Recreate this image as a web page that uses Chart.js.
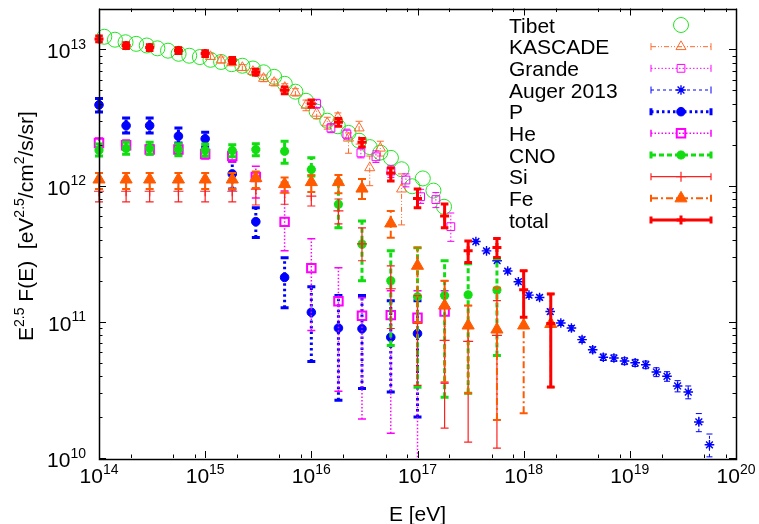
<!DOCTYPE html>
<html><head><meta charset="utf-8">
<script src="https://cdn.jsdelivr.net/npm/chart.js@4"></script>
<style>html,body{margin:0;padding:0;background:#fff}#wrap{width:759px;height:524px}</style>
</head><body>
<div id="wrap"><canvas id="c" width="759" height="524"></canvas></div>
<script>
// ---------------- data ----------------
const xTickExps = [14,15,16,17,18,19,20];
const yTickExps = [10,11,12,13];

const tibetE = [1.122e14,1.413e14,1.778e14,2.239e14,2.818e14,3.548e14,4.467e14,5.623e14,7.079e14,8.913e14,
  1.122e15,1.413e15,1.778e15,2.239e15,2.818e15,3.548e15,4.467e15,5.623e15,7.079e15,8.913e15,
  1.122e16,1.413e16,1.778e16,2.239e16,2.818e16,3.548e16,4.467e16,5.623e16,7.079e16,8.913e16,
  1.122e17,1.413e17,1.778e17];
const tibetV = [1.24e13,1.18e13,1.13e13,1.10e13,1.07e13,1.02e13,9.8e12,9.3e12,9.0e12,8.8e12,
  8.4e12,8.1e12,7.8e12,7.6e12,7.25e12,6.8e12,6.3e12,5.6e12,4.9e12,4.2e12,
  3.5e12,3.0e12,2.73e12,2.44e12,2.14e12,1.92e12,1.75e12,1.6e12,1.32e12,9.9e11,
  1.13e12,9.2e11,7.0e11];

const kascadeE = [1.122e15,1.413e15,1.778e15,2.239e15,2.818e15,3.548e15,4.467e15,5.623e15,7.079e15,8.913e15,
  1.122e16,1.413e16,1.778e16,2.239e16,2.818e16,3.548e16,4.467e16,7.079e16];
const kascadeV  = [8.87e12,8.37e12,8.02e12,7.37e12,6.89e12,6.13e12,5.73e12,5.26e12,4.84e12,3.89e12,
  3.40e12,2.885e12,3.18e12,2.23e12,2.65e12,1.352e12,1.884e12,9.44e11];
const kascadeHi = [9.3e12,8.8e12,8.4e12,7.75e12,7.25e12,6.5e12,6.05e12,5.6e12,5.15e12,4.25e12,
  3.72e12,3.18e12,3.42e12,2.44e12,2.97e12,1.65e12,2.12e12,1.22e12];
const kascadeLo = [8.45e12,7.95e12,7.6e12,7.0e12,6.55e12,5.8e12,5.4e12,4.95e12,4.55e12,3.55e12,
  3.1e12,2.6e12,2.97e12,1.73e12,2.02e12,1.0e12,1.65e12,5.15e11];

const grandeE  = [1.12e16,1.53e16,2.16e16,2.93e16,4.06e16,5.62e16,7.78e16,1.07e17,1.49e17,2.06e17];
const grandeV  = [4.0e12,2.65e12,2.39e12,1.74e12,1.63e12,1.28e12,1.10e12,8.3e11,7.9e11,5.0e11];
const grandeHi = [4.3e12,2.85e12,2.6e12,1.88e12,1.8e12,1.4e12,1.22e12,9.4e11,8.9e11,6.3e11];
const grandeLo = [3.72e12,2.45e12,2.2e12,1.6e12,1.48e12,1.15e12,0.98e12,7.4e11,6.9e11,3.9e11];

const augerE = [3.548e17,4.467e17,5.623e17,7.079e17,8.913e17,1.122e18,1.413e18,1.778e18,2.239e18,2.818e18,
  3.548e18,4.467e18,5.623e18,7.079e18,8.913e18,1.122e19,1.413e19,1.778e19,2.239e19,2.818e19,
  3.548e19,4.467e19,5.623e19];
const augerV  = [3.89e11,3.32e11,2.81e11,2.36e11,1.97e11,1.57e11,1.51e11,1.19e11,9.8e10,9.0e10,
  7.4e10,6.24e10,5.5e10,5.42e10,5.15e10,5.0e10,4.84e10,4.28e10,3.98e10,3.38e10,3.05e10,1.84e10,1.25e10];
const augerHi = [4.0e11,3.42e11,2.9e11,2.44e11,2.04e11,1.63e11,1.57e11,1.24e11,1.02e11,9.4e10,
  7.75e10,6.55e10,5.8e10,5.72e10,5.45e10,5.3e10,5.15e10,4.6e10,4.3e10,3.7e10,3.38e10,2.12e10,1.5e10];
const augerLo = [3.78e11,3.22e11,2.72e11,2.28e11,1.9e11,1.51e11,1.45e11,1.14e11,9.4e10,8.6e10,
  7.05e10,5.93e10,5.2e10,5.12e10,4.85e10,4.7e10,4.53e10,3.96e10,3.66e10,3.06e10,2.72e10,1.56e10,1.02e10];

const compE = [1e14,1.8e14,3e14,5.6e14,1e15,1.8e15,3e15,5.6e15,1e16,1.8e16,3e16,5.6e16,1e17,1.8e17,3e17,5.6e17,1e18,1.8e18];

const pV  = [3.92e12,2.76e12,2.76e12,2.31e12,2.21e12,1.22e12,5.44e11,2.12e11,1.175e11,9.0e10,8.9e10,7.7e10,8.2e10];
const pHi = [4.37e12,3.14e12,3.14e12,2.65e12,2.47e12,1.51e12,6.89e11,2.95e11,1.81e11,1.56e11,1.56e11,1.43e11,1.43e11];
const pLo = [3.47e12,2.44e12,2.44e12,2.06e12,1.92e12,9.44e11,4.16e11,1.27e11,5.12e10,2.66e10,3.24e10,3.05e10,2.0e10];

const heV  = [2.06e12,1.98e12,1.84e12,1.84e12,1.71e12,1.65e12,1.156e12,5.42e11,2.48e11,1.415e11,1.11e11,1.12e11,1.07e11,1.19e11];
const heHi = [2.24e12,2.16e12,2.0e12,2.0e12,1.86e12,1.82e12,1.39e12,9.13e11,4.07e11,2.5e11,1.5e11,1.69e11,1.69e11,1.69e11];
const heLo = [1.89e12,1.82e12,1.69e12,1.69e12,1.57e12,1.49e12,8.12e11,3.32e11,8.64e10,3.09e10,1.93e10,1.52e10,9e9,3.54e10];

const cnoV  = [1.82e12,1.88e12,1.88e12,1.84e12,1.82e12,1.81e12,1.84e12,1.79e12,1.316e12,7.3e11,3.72e11,2.0e11,1.53e11,1.56e11,1.58e11,1.71e11];
const cnoHi = [2.02e12,2.08e12,2.08e12,2.03e12,2.02e12,2.0e12,2.03e12,2.12e12,1.6e12,1.08e12,5.51e11,3.32e11,3.5e11,2.81e11,2.67e11,2.9e11];
const cnoLo = [1.65e12,1.7e12,1.7e12,1.66e12,1.65e12,1.63e12,1.66e12,1.46e12,1.175e12,4.9e11,2.0e11,6.71e10,3.31e10,2.79e10,2.99e10,5.67e10];

const siV  = [9.1e11,9.1e11,9.1e11,9.1e11,9.1e11,9.1e11,9.44e11,8.83e11,8.39e11,6.52e11,3.74e11,1.75e11,9.72e10,7.3e10,7.18e10,7.94e10];
const siHi = [1.08e12,1.08e12,1.08e12,1.08e12,1.08e12,1.08e12,1.175e12,1.062e12,1.01e12,7.98e11,4.9e11,2.58e11,1.557e11,2.0e11,1.316e11,1.43e11];
const siLo = [7.6e11,7.6e11,7.6e11,7.6e11,7.6e11,7.6e11,7.21e11,7.3e11,7.09e11,5.24e11,2.81e11,8.93e10,3.42e10,1.66e10,1.31e10,1.18e10];

const feV  = [1.11e12,1.11e12,1.11e12,1.11e12,1.11e12,1.11e12,1.137e12,1.027e12,1.062e12,1.062e12,9.52e11,5.28e11,2.58e11,1.316e11,9.4e10,8.78e10,9.4e10,9.64e10];
const feHi = [1.237e12,1.237e12,1.237e12,1.237e12,1.237e12,1.237e12,1.27e12,1.15e12,1.19e12,1.2e12,1.118e12,6.52e11,3.5e11,2.0e11,1.316e11,1.78e11,2.37e11,1.61e11];
const feLo = [9.44e11,9.44e11,9.44e11,9.44e11,9.44e11,9.44e11,9.6e11,8.9e11,9.0e11,8.8e11,7.98e11,4.14e11,9.88e10,3.6e10,2.99e10,1.9e10,2.13e10,3.31e10];

const totV  = [1.195e13,1.068e13,1.033e13,9.82e12,9.33e12,8.3e12,6.81e12,5.01e12,4.0e12,2.92e12,2.08e12,1.237e12,8.05e11,5.99e11,3.32e11,3.51e11,1.723e11,9.72e10];
const totHi = [1.255e13,1.12e13,1.085e13,1.031e13,9.8e12,8.72e12,7.15e12,5.3e12,4.25e12,3.11e12,2.22e12,1.35e12,9.44e11,7.33e11,3.93e11,4.09e11,2.37e11,1.6e11];
const totLo = [1.138e13,1.017e13,9.84e12,9.35e12,8.89e12,7.9e12,6.49e12,4.74e12,3.77e12,2.73e12,1.92e12,1.08e12,6.89e11,4.9e11,2.73e11,2.97e11,1.08e11,3.32e10];

// ---------------- styles ----------------
const FONT = '"Liberation Sans", Arial, sans-serif';
const series = [
  {label:'Tibet',     E:tibetE,   V:tibetV,   hi:null,      lo:null,      color:'#22e622', style:'circle',   r:7.5, bw:1,   fill:false, lw:1,   dash:[],              cap:0},
  {label:'KASCADE',   E:kascadeE, V:kascadeV, hi:kascadeHi, lo:kascadeLo, color:'#ff6a2a', style:'triangle', r:5.8, bw:1,   fill:false, lw:1,   dash:[5,2,1,2,1,2],   cap:3.5},
  {label:'Grande',    E:grandeE,  V:grandeV,  hi:grandeHi,  lo:grandeLo,  color:'#ff00ff', style:'rect',     r:5.5, bw:1,   fill:false, lw:1,   dash:[1.5,2],         cap:3.5},
  {label:'Auger 2013',E:augerE,   V:augerV,   hi:augerHi,   lo:augerLo,   color:'#0000ff', style:'star',     r:4.8, bw:1.4, fill:false, lw:1,   dash:[3,3],           cap:3},
  {label:'P',         E:compE,    V:pV,       hi:pHi,       lo:pLo,       color:'#0000ff', style:'circle',   r:4.3, bw:1,   fill:true,  lw:3,   dash:[2.5,3],         cap:4},
  {label:'He',        E:compE,    V:heV,      hi:heHi,      lo:heLo,      color:'#ff00ff', style:'rect',     r:6,   bw:2,   fill:false, lw:1.5, dash:[1.5,2],         cap:4},
  {label:'CNO',       E:compE,    V:cnoV,     hi:cnoHi,     lo:cnoLo,     color:'#11dd11', style:'star',     r:4.5, bw:3,   fill:false, lw:3,   dash:[5,3],           cap:4},
  {label:'Si',        E:compE,    V:siV,      hi:siHi,      lo:siLo,      color:'#ff2020', style:'cross',    r:5,   bw:1.2, fill:false, lw:1.2, dash:[],              cap:4},
  {label:'Fe',        E:compE,    V:feV,      hi:feHi,      lo:feLo,      color:'#ff5a00', style:'triangle', r:7,   bw:1,   fill:true,  lw:2,   dash:[7,3,2,3],       cap:4},
  {label:'total',     E:compE,    V:totV,     hi:totHi,     lo:totLo,     color:'#ff0000', style:'cross',    r:4.5, bw:3,   fill:false, lw:3,   dash:[],              cap:3.8}
];

const datasets = series.map((s, idx) => ({
  label: s.label,
  data: s.V.map((v, i) => ({x: s.E[i], y: v})),
  showLine: false,
  pointStyle: s.style,
  pointRadius: s.r,
  pointHoverRadius: s.r,
  pointBorderWidth: s.bw,
  pointBorderColor: s.color,
  pointBackgroundColor: s.fill ? s.color : 'rgba(0,0,0,0)',
  order: 9 - idx,
  clip: false,
  _s: s
}));

function drawMarker(ctx, s, x, y) {
  ctx.save();
  ctx.setLineDash([]);
  ctx.strokeStyle = s.color;
  ctx.fillStyle = s.fill ? s.color : 'rgba(0,0,0,0)';
  ctx.lineWidth = s.bw;
  Chart.helpers.drawPoint(ctx, {pointStyle: s.style, radius: s.r, rotation: 0, borderWidth: s.bw}, x, y);
  ctx.restore();
}

function drawPow(ctx, exp, x, y, align) {
  ctx.save();
  ctx.fillStyle = '#000';
  ctx.textBaseline = 'alphabetic';
  ctx.textAlign = 'left';
  ctx.font = '21px ' + FONT;
  const w1 = ctx.measureText('10').width;
  ctx.font = '14px ' + FONT;
  const w2 = ctx.measureText(String(exp)).width;
  const tot = w1 + w2;
  let sx = align === 'center' ? x - tot / 2 : x - tot;
  ctx.font = '21px ' + FONT;
  ctx.fillText('10', sx, y);
  ctx.font = '14px ' + FONT;
  ctx.fillText(String(exp), sx + w1, y - 9.5);
  ctx.restore();
}

const gp = {
  id: 'gp',
  beforeDatasetDraw(chart, args) {
    const ds = chart.data.datasets[args.index];
    const s = ds._s;
    if (!s || !s.hi) return;
    const ctx = chart.ctx, xs = chart.scales.x, ys = chart.scales.y, a = chart.chartArea;
    ctx.save();
    ctx.beginPath();
    ctx.rect(a.left - 10, a.top, a.right - a.left + 20, a.bottom - a.top);
    ctx.clip();
    ctx.strokeStyle = s.color;
    ctx.lineWidth = s.lw;
    s.V.forEach((v, i) => {
      const x = xs.getPixelForValue(s.E[i]);
      const y1 = ys.getPixelForValue(s.lo[i]);
      const y2 = ys.getPixelForValue(s.hi[i]);
      ctx.setLineDash(s.dash);
      ctx.beginPath(); ctx.moveTo(x, y1); ctx.lineTo(x, y2); ctx.stroke();
      ctx.setLineDash([]);
      ctx.beginPath();
      ctx.moveTo(x - s.cap, y1); ctx.lineTo(x + s.cap, y1);
      ctx.moveTo(x - s.cap, y2); ctx.lineTo(x + s.cap, y2);
      ctx.stroke();
    });
    ctx.restore();
  },
  afterDraw(chart) {
    const ctx = chart.ctx, xs = chart.scales.x, ys = chart.scales.y, a = chart.chartArea;
    ctx.save();
    ctx.strokeStyle = '#000';
    ctx.lineWidth = 1.5;
    ctx.setLineDash([]);
    ctx.strokeRect(Math.round(a.left) + 0.5, Math.round(a.top) + 0.5, Math.round(a.right - a.left), Math.round(a.bottom - a.top));
    const major = 7, minor = 3.5;
    ctx.lineWidth = 1;
    ctx.beginPath();
    xTickExps.forEach(k => {
      const x = Math.round(xs.getPixelForValue(Math.pow(10, k))) + 0.5;
      ctx.moveTo(x, a.bottom); ctx.lineTo(x, a.bottom - major);
      ctx.moveTo(x, a.top); ctx.lineTo(x, a.top + major);
      if (k < 20) [2, 5, 8].forEach(m => {
        const xm = Math.round(xs.getPixelForValue(m * Math.pow(10, k))) + 0.5;
        ctx.moveTo(xm, a.bottom); ctx.lineTo(xm, a.bottom - minor);
        ctx.moveTo(xm, a.top); ctx.lineTo(xm, a.top + minor);
      });
    });
    yTickExps.forEach(k => {
      const y = Math.round(ys.getPixelForValue(Math.pow(10, k))) + 0.5;
      ctx.moveTo(a.left, y); ctx.lineTo(a.left + major, y);
      ctx.moveTo(a.right, y); ctx.lineTo(a.right - major, y);
      [2,3,4,5,6,7,8,9].forEach(m => {
        const v = m * Math.pow(10, k);
        if (v > ys.max) return;
        const ym = Math.round(ys.getPixelForValue(v)) + 0.5;
        ctx.moveTo(a.left, ym); ctx.lineTo(a.left + minor, ym);
        ctx.moveTo(a.right, ym); ctx.lineTo(a.right - minor, ym);
      });
    });
    ctx.stroke();
    xTickExps.forEach(k => drawPow(ctx, k, xs.getPixelForValue(Math.pow(10, k)), a.bottom + 25, 'center'));
    yTickExps.forEach(k => drawPow(ctx, k, a.left - 13, ys.getPixelForValue(Math.pow(10, k)) + 9, 'right'));
    ctx.fillStyle = '#000';
    ctx.font = '21px ' + FONT;
    ctx.textAlign = 'center';
    ctx.textBaseline = 'alphabetic';
    ctx.fillText('E [eV]', (a.left + a.right) / 2, 521);
    const parts = [['E', 0], ['2.5', 1], [' F(E)  [eV', 0], ['2.5', 1], ['/cm', 0], ['2', 1], ['/s/sr]', 0]];
    ctx.save();
    ctx.translate(33, 226);
    ctx.rotate(-Math.PI / 2);
    ctx.textAlign = 'left';
    let total = 0;
    parts.forEach(p => { ctx.font = (p[1] ? '14px ' : '21px ') + FONT; total += ctx.measureText(p[0]).width; });
    let cx = -total / 2;
    parts.forEach(p => {
      ctx.font = (p[1] ? '14px ' : '21px ') + FONT;
      ctx.fillText(p[0], cx, p[1] ? -9.5 : 0);
      cx += ctx.measureText(p[0]).width;
    });
    ctx.restore();
    const rowY0 = 25, rowDy = 21.67;
    series.forEach((s, i) => {
      const yc = rowY0 + i * rowDy;
      ctx.fillStyle = '#000';
      ctx.font = '21px ' + FONT;
      ctx.textAlign = 'left';
      ctx.textBaseline = 'alphabetic';
      ctx.fillText(s.label, 509, yc + 7.5);
      const x1 = 651, x2 = 711, xm = 681;
      if (s.hi) {
        ctx.strokeStyle = s.color;
        ctx.lineWidth = s.lw;
        ctx.setLineDash(s.dash);
        ctx.beginPath(); ctx.moveTo(x1, yc); ctx.lineTo(x2, yc); ctx.stroke();
        ctx.setLineDash([]);
        ctx.beginPath();
        ctx.moveTo(x1, yc - 3.5); ctx.lineTo(x1, yc + 3.5);
        ctx.moveTo(x2, yc - 3.5); ctx.lineTo(x2, yc + 3.5);
        ctx.stroke();
      }
      drawMarker(ctx, s, xm, yc);
    });
    ctx.restore();
  }
};

new Chart(document.getElementById('c'), {
  type: 'scatter',
  data: { datasets },
  options: {
    responsive: false,
    animation: false,
    devicePixelRatio: 1,
    layout: { padding: { left: 99, right: 23, top: 8, bottom: 66 } },
    plugins: { legend: { display: false }, tooltip: { enabled: false } },
    scales: {
      x: { type: 'logarithmic', min: 1e14, max: 1e20, display: false },
      y: { type: 'logarithmic', min: 1e10, max: 2e13, display: false }
    }
  },
  plugins: [gp]
});
</script>
</body></html>
